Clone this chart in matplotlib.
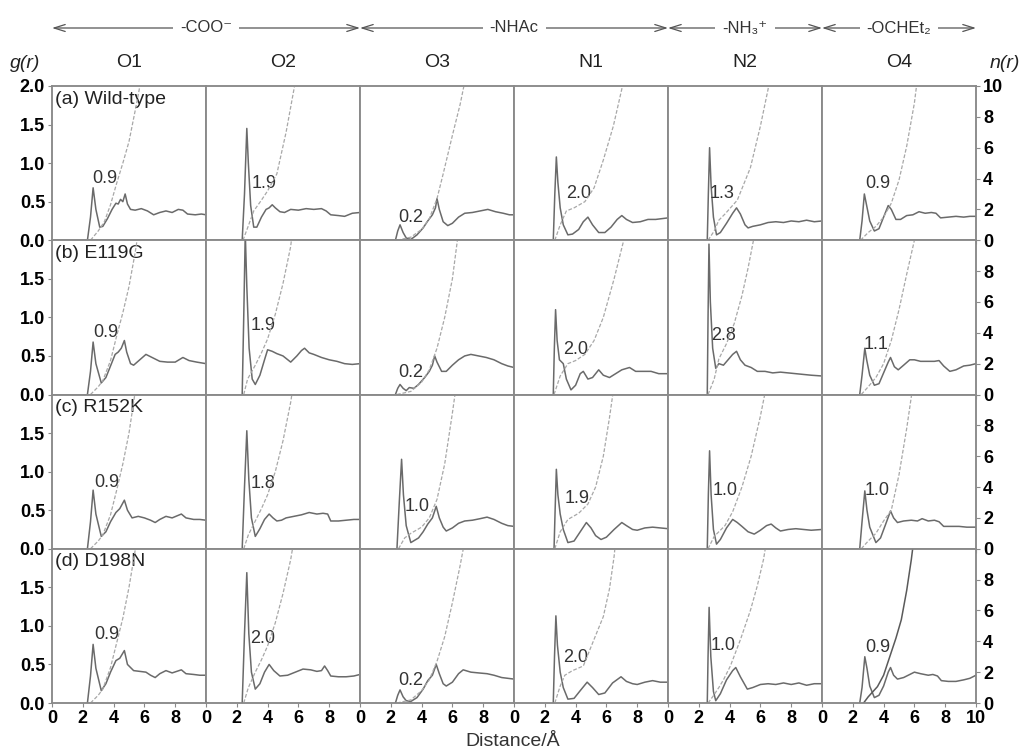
import matplotlib.pyplot as plt
from matplotlib.patches import FancyArrowPatch

plt.rcParams['font.family'] = ['Liberation Sans', 'DejaVu Sans']

sites = ['O1', 'O2', 'O3', 'N1', 'N2', 'O4']
systems = ['(a) Wild-type', '(b) E119G', '(c) R152K', '(d) D198N']
groups = ['-COO\u207b', '-NHAc', '-NH\u2083\u207a', '-OCHEt\u2082']
group_cols = [(0, 2), (2, 4), (4, 5), (5, 6)]

# g(r): (r, g) points for each site, one list per system
g_wt = [
    [(2.3,0),(2.5,0.3),(2.67,0.68),(2.85,0.4),(3.1,0.17),(3.3,0.18),(3.6,0.28),(3.9,0.4),(4.15,0.48),(4.3,0.47),(4.45,0.53),(4.6,0.5),(4.75,0.6),(4.9,0.47),(5.1,0.4),(5.4,0.39),(5.8,0.41),(6.2,0.38),(6.6,0.33),(7.0,0.36),(7.4,0.38),(7.8,0.36),(8.2,0.4),(8.5,0.39),(8.8,0.34),(9.3,0.33),(9.7,0.34),(10,0.33)],
    [(2.35,0),(2.5,0.6),(2.65,1.45),(2.75,1.0),(2.9,0.45),(3.1,0.17),(3.3,0.17),(3.6,0.3),(3.9,0.4),(4.1,0.42),(4.3,0.46),(4.5,0.42),(4.8,0.37),(5.1,0.36),(5.5,0.4),(6.0,0.39),(6.5,0.41),(7.0,0.4),(7.5,0.41),(7.8,0.38),(8.1,0.33),(8.6,0.32),(9.0,0.31),(9.5,0.35),(10,0.36)],
    [(2.3,0),(2.45,0.12),(2.6,0.2),(2.8,0.1),(3.0,0.03),(3.3,0.01),(3.7,0.07),(4.1,0.16),(4.4,0.25),(4.7,0.33),(4.9,0.42),(5.0,0.54),(5.15,0.4),(5.4,0.24),(5.7,0.19),(6.0,0.22),(6.4,0.3),(6.8,0.35),(7.3,0.36),(7.8,0.38),(8.3,0.4),(8.8,0.37),(9.3,0.35),(9.7,0.33),(10,0.33)],
    [(2.55,0),(2.65,0.6),(2.75,1.08),(2.85,0.75),(3.0,0.42),(3.2,0.2),(3.5,0.07),(3.8,0.08),(4.2,0.14),(4.5,0.24),(4.8,0.3),(5.1,0.2),(5.5,0.1),(5.9,0.1),(6.3,0.17),(6.7,0.27),(7.0,0.32),(7.3,0.27),(7.7,0.23),(8.2,0.24),(8.7,0.27),(9.2,0.27),(9.6,0.28),(10,0.29)],
    [(2.55,0),(2.62,0.6),(2.7,1.2),(2.8,0.7),(2.95,0.3),(3.15,0.07),(3.4,0.1),(3.8,0.22),(4.2,0.35),(4.45,0.42),(4.7,0.34),(5.0,0.2),(5.2,0.16),(5.5,0.18),(6.0,0.2),(6.5,0.23),(7.0,0.24),(7.5,0.23),(8.0,0.25),(8.5,0.24),(9.0,0.26),(9.5,0.24),(10,0.25)],
    [(2.45,0),(2.6,0.25),(2.75,0.6),(2.9,0.45),(3.1,0.25),(3.4,0.12),(3.7,0.15),(4.0,0.3),(4.3,0.45),(4.5,0.4),(4.8,0.27),(5.1,0.27),(5.5,0.32),(5.9,0.33),(6.3,0.37),(6.7,0.35),(7.1,0.36),(7.4,0.35),(7.7,0.29),(8.2,0.3),(8.7,0.31),(9.2,0.3),(9.6,0.31),(10,0.31)],
]
g_e119g = [
    [(2.3,0),(2.5,0.3),(2.67,0.68),(2.85,0.4),(3.2,0.15),(3.5,0.22),(3.8,0.37),(4.1,0.52),(4.3,0.55),(4.5,0.6),(4.7,0.7),(4.85,0.55),(5.1,0.4),(5.3,0.38),(5.7,0.45),(6.1,0.52),(6.5,0.48),(7.0,0.43),(7.5,0.42),(8.0,0.42),(8.5,0.48),(8.9,0.44),(9.4,0.42),(10,0.4)],
    [(2.35,0),(2.45,1.0),(2.55,2.1),(2.65,1.4),(2.8,0.6),(3.0,0.2),(3.2,0.13),(3.5,0.25),(3.8,0.45),(4.0,0.58),(4.3,0.56),(4.6,0.53),(5.0,0.5),(5.5,0.42),(5.9,0.5),(6.2,0.57),(6.4,0.6),(6.7,0.54),(7.0,0.52),(7.5,0.48),(8.0,0.45),(8.5,0.43),(9.0,0.4),(9.5,0.39),(10,0.4)],
    [(2.3,0),(2.45,0.08),(2.6,0.13),(2.8,0.08),(3.0,0.05),(3.2,0.09),(3.5,0.08),(3.8,0.13),(4.2,0.22),(4.5,0.3),(4.7,0.38),(4.85,0.5),(5.0,0.42),(5.3,0.3),(5.6,0.3),(6.0,0.38),(6.4,0.45),(6.8,0.5),(7.2,0.52),(7.7,0.5),(8.2,0.48),(8.7,0.45),(9.2,0.4),(9.6,0.37),(10,0.35)],
    [(2.55,0),(2.62,0.6),(2.7,1.1),(2.8,0.7),(2.95,0.45),(3.2,0.4),(3.4,0.2),(3.7,0.06),(4.0,0.12),(4.3,0.27),(4.5,0.3),(4.8,0.2),(5.1,0.22),(5.5,0.32),(5.8,0.25),(6.2,0.22),(6.6,0.27),(7.0,0.32),(7.5,0.35),(7.9,0.3),(8.4,0.3),(8.9,0.3),(9.4,0.27),(10,0.27)],
    [(2.55,0),(2.6,1.0),(2.66,1.95),(2.75,1.2),(2.9,0.6),(3.1,0.34),(3.3,0.4),(3.6,0.38),(3.9,0.45),(4.2,0.52),(4.45,0.56),(4.7,0.45),(5.0,0.38),(5.4,0.35),(5.8,0.3),(6.3,0.3),(6.8,0.28),(7.3,0.29),(7.8,0.28),(8.3,0.27),(8.8,0.26),(9.3,0.25),(10,0.24)],
    [(2.45,0),(2.6,0.25),(2.78,0.6),(2.9,0.45),(3.1,0.25),(3.4,0.12),(3.7,0.14),(4.0,0.28),(4.3,0.42),(4.45,0.48),(4.7,0.36),(4.95,0.32),(5.3,0.38),(5.7,0.45),(6.0,0.45),(6.4,0.43),(6.9,0.43),(7.3,0.43),(7.6,0.44),(7.9,0.37),(8.3,0.3),(8.7,0.32),(9.2,0.37),(9.6,0.38),(10,0.4)],
]
g_r152k = [
    [(2.3,0),(2.5,0.35),(2.67,0.76),(2.85,0.45),(3.2,0.16),(3.5,0.22),(3.8,0.35),(4.15,0.47),(4.4,0.52),(4.7,0.63),(4.9,0.5),(5.2,0.4),(5.6,0.42),(6.0,0.4),(6.4,0.37),(6.7,0.34),(7.0,0.38),(7.4,0.42),(7.8,0.4),(8.4,0.45),(8.7,0.4),(9.2,0.38),(9.6,0.38),(10,0.37)],
    [(2.35,0),(2.5,0.8),(2.65,1.53),(2.78,0.9),(2.95,0.4),(3.2,0.16),(3.5,0.26),(3.8,0.38),(4.1,0.45),(4.35,0.4),(4.6,0.36),(4.9,0.37),(5.2,0.4),(5.7,0.42),(6.2,0.44),(6.7,0.47),(7.2,0.45),(7.6,0.46),(7.9,0.45),(8.1,0.36),(8.6,0.36),(9.1,0.37),(9.6,0.38),(10,0.38)],
    [(2.4,0),(2.55,0.6),(2.7,1.16),(2.82,0.7),(3.0,0.3),(3.3,0.08),(3.8,0.14),(4.1,0.22),(4.4,0.32),(4.7,0.4),(4.95,0.55),(5.15,0.4),(5.4,0.28),(5.6,0.23),(6.0,0.27),(6.4,0.33),(6.8,0.36),(7.3,0.37),(7.8,0.39),(8.25,0.41),(8.7,0.38),(9.2,0.33),(9.6,0.3),(10,0.29)],
    [(2.6,0),(2.67,0.5),(2.75,1.03),(2.85,0.7),(3.0,0.45),(3.2,0.25),(3.5,0.08),(3.9,0.1),(4.3,0.22),(4.7,0.34),(5.0,0.27),(5.3,0.17),(5.65,0.12),(6.0,0.15),(6.5,0.25),(7.0,0.34),(7.3,0.3),(7.7,0.25),(8.0,0.24),(8.5,0.27),(9.0,0.28),(9.5,0.27),(10,0.26)],
    [(2.55,0),(2.62,0.7),(2.7,1.27),(2.8,0.7),(2.95,0.25),(3.15,0.06),(3.4,0.12),(3.8,0.27),(4.2,0.38),(4.5,0.34),(4.8,0.29),(5.2,0.22),(5.6,0.19),(6.0,0.24),(6.4,0.3),(6.7,0.32),(7.0,0.27),(7.3,0.23),(7.8,0.25),(8.3,0.26),(8.8,0.25),(9.3,0.24),(10,0.25)],
    [(2.45,0),(2.6,0.35),(2.78,0.75),(2.92,0.5),(3.1,0.28),(3.5,0.08),(3.8,0.14),(4.1,0.3),(4.45,0.49),(4.65,0.4),(4.9,0.34),(5.3,0.36),(5.8,0.37),(6.2,0.36),(6.5,0.39),(6.9,0.36),(7.3,0.37),(7.6,0.35),(7.9,0.29),(8.4,0.29),(8.9,0.29),(9.4,0.28),(10,0.28)],
]
g_d198n = [
    [(2.3,0),(2.5,0.35),(2.67,0.76),(2.85,0.45),(3.2,0.16),(3.5,0.25),(3.8,0.4),(4.15,0.55),(4.4,0.58),(4.7,0.68),(4.9,0.5),(5.3,0.42),(5.7,0.41),(6.1,0.4),(6.4,0.36),(6.7,0.33),(7.0,0.38),(7.4,0.42),(7.8,0.39),(8.4,0.43),(8.7,0.38),(9.2,0.37),(9.6,0.36),(10,0.36)],
    [(2.35,0),(2.5,0.9),(2.65,1.69),(2.78,0.9),(2.95,0.4),(3.2,0.18),(3.5,0.25),(3.8,0.4),(4.1,0.5),(4.4,0.42),(4.8,0.35),(5.3,0.36),(5.8,0.4),(6.3,0.44),(6.8,0.43),(7.2,0.41),(7.5,0.42),(7.7,0.48),(7.9,0.42),(8.1,0.35),(8.6,0.34),(9.1,0.34),(9.6,0.35),(10,0.37)],
    [(2.3,0),(2.45,0.1),(2.6,0.17),(2.8,0.08),(3.0,0.03),(3.3,0.02),(3.7,0.07),(4.1,0.18),(4.4,0.29),(4.7,0.36),(4.95,0.5),(5.15,0.38),(5.4,0.25),(5.6,0.22),(6.0,0.27),(6.4,0.38),(6.7,0.43),(7.2,0.4),(7.7,0.39),(8.25,0.38),(8.7,0.36),(9.2,0.33),(9.6,0.32),(10,0.31)],
    [(2.55,0),(2.63,0.6),(2.72,1.13),(2.82,0.75),(3.0,0.4),(3.2,0.2),(3.5,0.05),(3.9,0.06),(4.3,0.16),(4.75,0.27),(5.1,0.2),(5.5,0.11),(5.9,0.13),(6.4,0.26),(6.95,0.34),(7.3,0.28),(7.7,0.25),(8.0,0.24),(8.5,0.27),(9.0,0.29),(9.5,0.27),(10,0.27)],
    [(2.55,0),(2.6,0.6),(2.67,1.24),(2.78,0.6),(2.95,0.15),(3.1,0.03),(3.4,0.12),(3.8,0.3),(4.2,0.42),(4.4,0.46),(4.7,0.34),(5.15,0.18),(5.5,0.2),(6.0,0.24),(6.5,0.25),(7.0,0.24),(7.5,0.26),(8.0,0.24),(8.5,0.26),(9.0,0.23),(9.5,0.25),(10,0.25)],
    [(2.45,0),(2.6,0.2),(2.78,0.6),(2.92,0.45),(3.1,0.22),(3.4,0.07),(3.7,0.1),(4.0,0.22),(4.3,0.4),(4.45,0.46),(4.65,0.36),(4.9,0.31),(5.3,0.33),(5.7,0.37),(6.0,0.4),(6.4,0.38),(6.9,0.36),(7.2,0.37),(7.5,0.35),(7.75,0.29),(8.2,0.28),(8.7,0.28),(9.2,0.3),(9.6,0.32),(10,0.36)],
]

# n(r): running coordination number, (r, n) points
n_wt = [
    [(2.5,0),(3.0,0.6),(3.4,1.2),(3.8,2.3),(4.2,3.7),(4.6,5.0),(5.0,6.4),(5.5,8.9),(5.8,10.5)],
    [(2.4,0),(2.7,0.8),(3.1,1.9),(3.6,2.6),(4.0,3.2),(4.6,4.3),(5.2,7.0),(5.75,10.0),(5.85,10.5)],
    [(2.4,0),(3.3,0.2),(4.0,0.7),(4.5,1.4),(5.0,2.7),(5.4,4.3),(6.0,6.8),(6.5,8.8),(6.85,10.5)],
    [(2.65,0),(3.0,1.0),(3.4,1.9),(3.9,2.1),(4.6,2.5),(5.2,3.4),(5.8,5.2),(6.45,7.4),(7.0,9.8),(7.1,10.5)],
    [(2.6,0),(3.0,0.6),(3.3,1.3),(3.7,1.7),(4.5,2.6),(5.35,4.7),(6.0,7.4),(6.5,9.8),(6.6,10.5)],
    [(2.5,0),(3.0,0.5),(3.5,0.9),(4.0,1.5),(4.5,2.4),(5.0,3.9),(5.5,6.1),(6.0,8.9),(6.2,10.5)],
]
n_e119g = [
    [(2.5,0),(3.0,0.5),(3.3,0.9),(3.8,2.2),(4.2,3.8),(4.6,5.3),(5.0,7.0),(5.4,9.2),(5.6,10.5)],
    [(2.45,0),(2.7,1.0),(3.2,1.9),(3.6,2.7),(4.0,3.6),(4.5,5.2),(5.0,7.2),(5.5,9.6),(5.6,10.5)],
    [(2.4,0),(3.3,0.2),(4.0,0.8),(4.5,1.6),(5.0,3.0),(5.5,5.0),(6.0,7.5),(6.35,10.2),(6.4,10.5)],
    [(2.6,0),(3.0,1.2),(3.5,2.0),(4.0,2.2),(4.6,2.6),(5.2,3.5),(5.8,5.0),(6.5,7.5),(7.2,10.3),(7.25,10.5)],
    [(2.6,0),(3.0,1.0),(3.3,2.3),(3.8,3.3),(4.3,4.6),(4.8,6.4),(5.2,8.2),(5.55,10.0),(5.6,10.5)],
    [(2.55,0),(3.0,0.5),(3.5,1.1),(4.0,2.0),(4.5,3.5),(5.0,5.5),(5.5,7.8),(6.0,10.0),(6.1,10.5)],
]
n_r152k = [
    [(2.5,0),(3.0,0.5),(3.3,0.9),(3.8,2.2),(4.2,3.8),(4.6,5.5),(5.0,7.5),(5.3,9.5),(5.45,10.5)],
    [(2.45,0),(2.75,0.9),(3.2,1.8),(3.6,2.6),(4.0,3.5),(4.5,5.0),(5.0,7.0),(5.5,9.5),(5.65,10.5)],
    [(2.5,0),(2.9,0.7),(3.3,1.0),(4.0,1.4),(4.5,2.0),(5.0,3.2),(5.5,5.5),(6.0,8.8),(6.25,10.6)],
    [(2.65,0),(3.0,1.1),(3.5,1.9),(4.2,2.3),(4.8,2.9),(5.3,4.0),(5.8,6.0),(6.2,8.5),(6.5,10.6)],
    [(2.6,0),(3.0,0.8),(3.2,1.0),(3.7,1.5),(4.2,2.4),(4.8,4.0),(5.4,6.0),(6.0,8.6),(6.4,10.6)],
    [(2.55,0),(3.0,0.5),(3.5,1.0),(4.0,1.8),(4.5,2.5),(5.0,4.8),(5.5,7.8),(5.85,10.2),(5.9,10.5)],
]
n_d198n = [
    [(2.5,0),(3.0,0.5),(3.3,0.9),(3.8,2.3),(4.2,3.9),(4.6,5.5),(5.0,7.5),(5.35,9.6),(5.5,10.5)],
    [(2.45,0),(2.75,1.0),(3.2,2.0),(3.6,2.8),(4.0,3.7),(4.5,5.2),(5.0,7.1),(5.5,9.3),(5.7,10.5)],
    [(2.4,0),(3.3,0.2),(4.0,0.8),(4.5,1.5),(5.0,2.7),(5.5,4.3),(6.0,6.5),(6.5,8.9),(6.8,10.5)],
    [(2.65,0),(3.0,1.1),(3.3,1.8),(3.8,2.1),(4.5,2.4),(5.35,4.5),(5.8,5.6),(6.2,7.4),(6.5,9.5),(6.6,10.5)],
    [(2.6,0),(2.97,0.5),(3.3,1.0),(3.6,1.5),(4.05,2.4),(4.7,4.1),(5.35,6.0),(5.8,7.6),(6.2,9.3),(6.4,10.5)],
    [(2.7,0),(3.0,0.4),(3.6,1.06),(4.0,1.8),(4.4,3.0),(4.8,4.2),(5.15,5.4),(5.5,7.3),(5.8,9.3),(5.95,10.5)],
]

# coordination numbers of the first shell
cn_wt = ['0.9', '1.9', '0.2', '2.0', '1.3', '0.9']
cn_e119g = ['0.9', '1.9', '0.2', '2.0', '2.8', '1.1']
cn_r152k = ['0.9', '1.8', '1.0', '1.9', '1.0', '1.0']
cn_d198n = ['0.9', '2.0', '0.2', '2.0', '1.0', '0.9']

all_g = [g_wt, g_e119g, g_r152k, g_d198n]
all_n = [n_wt, n_e119g, n_r152k, n_d198n]
all_cn = [cn_wt, cn_e119g, cn_r152k, cn_d198n]

# where each number is written (r, g)
cn_pos = [
    [(3.45,0.80),(3.8,0.74),(3.3,0.29),(4.2,0.61),(3.5,0.60),(3.6,0.73)],
    [(3.5,0.80),(3.7,0.89),(3.3,0.29),(4.0,0.58),(3.6,0.76),(3.5,0.65)],
    [(3.55,0.86),(3.7,0.84),(3.7,0.55),(4.1,0.65),(3.7,0.75),(3.6,0.75)],
    [(3.55,0.89),(3.7,0.84),(3.3,0.29),(4.0,0.59),(3.6,0.74),(3.6,0.72)],
]

frame = '#8a8a8a'
gcol = '#6a6a6a'
ncol = '#a8a8a8'

fig = plt.figure(figsize=(10.26, 7.55), dpi=100)
gs = fig.add_gridspec(4, 6, left=52/1026, right=976/1026, top=1-86/755, bottom=1-703/755,
                      wspace=0, hspace=0)

for i in range(4):
    for j in range(6):
        ax = fig.add_subplot(gs[i, j])
        ax2 = ax.twinx()
        g = all_g[i][j]
        n = all_n[i][j]
        ax.plot([p[0] for p in g], [p[1] for p in g], color=gcol, lw=1.1, zorder=3)
        if i == 3 and j == 5:
            ax2.plot([p[0] for p in n], [p[1] for p in n], color='#5a5a5a', lw=1.1)
        else:
            ax2.plot([p[0] for p in n], [p[1] for p in n], color=ncol, lw=0.9, ls=(0, (3, 1.5)))
        ax.text(cn_pos[i][j][0], cn_pos[i][j][1], all_cn[i][j], ha='center', va='center',
                fontsize=13, color='#333333', zorder=5)
        ax.set_xlim(0, 10)
        ax.set_ylim(0, 2.0)
        ax2.set_ylim(0, 10)
        for a in (ax, ax2):
            for s in a.spines.values():
                s.set_color(frame)
                s.set_linewidth(1.1)
        ax.set_xticks([0, 2, 4, 6, 8, 10] if j == 5 else [0, 2, 4, 6, 8])
        ax.tick_params(axis='x', direction='out', length=3, color=frame,
                       labelbottom=(i == 3), labelsize=13, pad=2)
        if i == 3:
            for t in ax.get_xticklabels():
                t.set_fontweight('bold')
        if j == 0:
            ax.set_yticks([0, 0.5, 1.0, 1.5, 2.0] if i == 0 else [0, 0.5, 1.0, 1.5])
            ax.set_yticklabels(['%.1f' % v for v in ax.get_yticks()], fontweight='bold', fontsize=13)
            ax.tick_params(axis='y', direction='out', length=3, color=frame, pad=2)
            ax.text(0.02, 0.97, systems[i], transform=ax.transAxes, ha='left', va='top',
                    fontsize=14, color='#222222')
        else:
            ax.set_yticks([])
        if j == 5:
            ax2.set_yticks([0, 2, 4, 6, 8, 10] if i == 0 else [0, 2, 4, 6, 8])
            ax2.set_yticklabels([str(int(v)) for v in ax2.get_yticks()], fontweight='bold', fontsize=13)
            ax2.tick_params(axis='y', direction='out', length=3, color=frame, pad=2)
        else:
            ax2.set_yticks([])
        if i == 0:
            ax.text(0.5, 1.15, sites[j], transform=ax.transAxes, ha='center', va='center',
                    fontsize=14, color='#222222')

# group arrows across the top
col_edges = [52 + 154 * k for k in range(7)]
ya = 1 - 28 / 755
for label, (c0, c1) in zip(groups, group_cols):
    x0 = col_edges[c0] / 1026
    x1 = col_edges[c1] / 1026
    arr = FancyArrowPatch((x0, ya), (x1, ya), transform=fig.transFigure,
                          arrowstyle='<->,head_length=8,head_width=2.5', color='#555555', lw=0.9,
                          shrinkA=0, shrinkB=0)
    fig.add_artist(arr)
    fig.text((x0 + x1) / 2, ya, label, ha='center', va='center', fontsize=12, color='#333333',
             bbox=dict(fc='white', ec='none', pad=5), zorder=10)

fig.text(25/1026, 1-63/755, 'g(r)', ha='center', va='center', fontsize=14, style='italic', color='#222222')
fig.text(1005/1026, 1-63/755, 'n(r)', ha='center', va='center', fontsize=14, style='italic', color='#222222')
fig.text(513/1026, 1-742/755, 'Distance/Å', ha='center', va='center', fontsize=14, color='#333333')

fig.savefig('out.png', dpi=100)
